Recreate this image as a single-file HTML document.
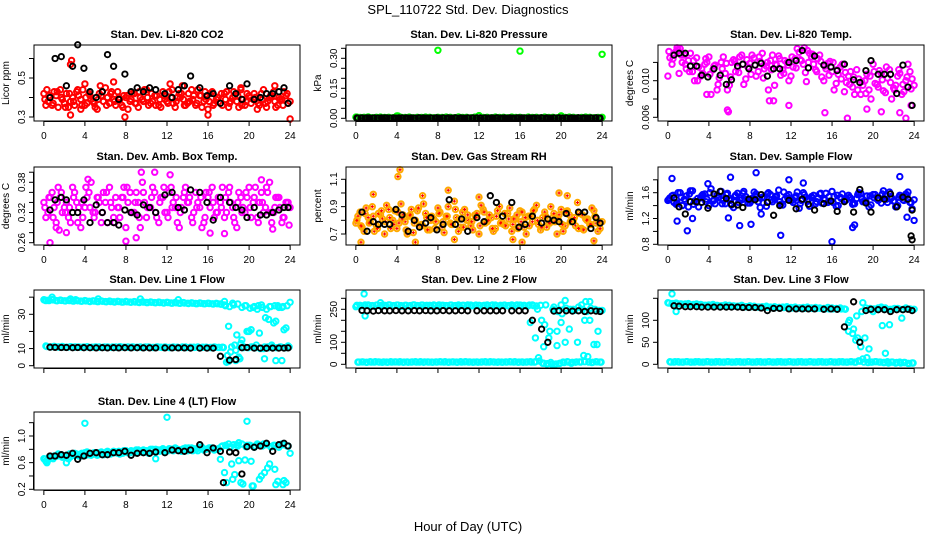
<!DOCTYPE html>
<html><head><meta charset="utf-8"><title>SPL_110722 Std. Dev. Diagnostics</title>
<style>
html,body{margin:0;padding:0;background:#fff;}
svg{display:block;font-family:"Liberation Sans",Arial,sans-serif;}
</style></head>
<body>
<svg id="chart" width="936" height="540" viewBox="0 0 936 540" xmlns="http://www.w3.org/2000/svg">
<rect width="936" height="540" fill="#fff"/>
<text x="468" y="14" font-size="13" text-anchor="middle">SPL_110722  Std. Dev. Diagnostics</text>
<text x="468" y="531" font-size="13" text-anchor="middle">Hour of Day (UTC)</text>
<g id="panels"></g>
</svg>
<script>
const hoursA=[0,0.4,0.8,1.2,1.6,2,2.4,2.8,3.2,3.6,4,4.4,4.8,5.2,5.6,6,6.4,6.8,7.2,7.6,8,8.4,8.8,9.2,9.6,10,10.4,10.8,11.2,11.6,12,12.4,12.8,13.2,13.6,14,14.4,14.8,15.2,15.6,16,16.4,16.8,17.2,17.6,18,18.4,18.8,19.2,19.6,20,20.4,20.8,21.2,21.6,22,22.4,22.8,23.2,23.6,24];
const hoursB=[0.2,0.6,1,1.4,1.8,2.2,2.6,3,3.4,3.8,4.2,4.6,5,5.4,5.8,6.2,6.6,7,7.4,7.8,8.2,8.6,9,9.4,9.8,10.2,10.6,11,11.4,11.8,12.2,12.6,13,13.4,13.8,14.2,14.6,15,15.4,15.8,16.2,16.6,17,17.4,17.8,18.2,18.6,19,19.4,19.8,20.2,20.6,21,21.4,21.8,22.2,22.6,23,23.4,23.8];
const hoursC=[0.1,0.5,0.9,1.3,1.7,2.1,2.5,2.9,3.3,3.7,4.1,4.5,4.9,5.3,5.7,6.1,6.5,6.9,7.3,7.7,8.1,8.5,8.9,9.3,9.7,10.1,10.5,10.9,11.3,11.7,12.1,12.5,12.9,13.3,13.7,14.1,14.5,14.9,15.3,15.7,16.1,16.5,16.9,17.3,17.7,18.1,18.5,18.9,19.3,19.7,20.1,20.5,20.9,21.3,21.7,22.1,22.5,22.9,23.3,23.7];
const hoursD=[0.3,0.7,1.1,1.5,1.9,2.3,2.7,3.1,3.5,3.9,4.3,4.7,5.1,5.5,5.9,6.3,6.7,7.1,7.5,7.9,8.3,8.7,9.1,9.5,9.9,10.3,10.7,11.1,11.5,11.9,12.3,12.7,13.1,13.5,13.9,14.3,14.7,15.1,15.5,15.9,16.3,16.7,17.1,17.5,17.9,18.3,18.7,19.1,19.5,19.9,20.3,20.7,21.1,21.5,21.9,22.3,22.7,23.1,23.5,23.9];
const blackHours=[0.6,1.1,1.7,2.2,2.8,3.3,3.9,4.5,5.1,5.7,6.2,6.8,7.3,7.9,8.5,9.1,9.7,10.3,10.9,11.8,12.5,13.1,13.7,14.3,15.2,15.9,16.5,17.2,18.1,18.7,19.3,19.8,20.5,21.1,21.7,22.3,22.9,23.4,23.8];
const xTicks=[0,4,8,12,16,20,24];

// CO2
const co2A=[0.42,0.38,0.36,0.41,0.44,0.37,0.35,0.40,0.43,0.39,0.36,0.42,0.38,0.34,0.41,0.45,0.37,0.39,0.43,0.36,0.40,0.38,0.42,0.35,0.39,0.44,0.37,0.41,0.36,0.43,0.38,0.40,0.35,0.42,0.39,0.37,0.44,0.36,0.41,0.38,0.34,0.43,0.39,0.37,0.42,0.35,0.40,0.38,0.44,0.36,0.41,0.39,0.34,0.42,0.37,0.40,0.43,0.36,0.39,0.41,0.38];
const co2B=[0.36,0.40,0.43,0.35,0.39,0.42,0.38,0.36,0.41,0.44,0.37,0.39,0.35,0.42,0.38,0.40,0.43,0.36,0.39,0.41,0.34,0.42,0.37,0.40,0.44,0.36,0.38,0.41,0.35,0.39,0.43,0.37,0.40,0.42,0.36,0.38,0.41,0.44,0.35,0.39,0.42,0.37,0.40,0.36,0.43,0.38,0.41,0.35,0.39,0.42,0.37,0.40,0.36,0.44,0.38,0.41,0.35,0.39,0.43,0.37];
const co2C=[0.39,0.41,0.37,0.43,0.40,0.35,0.42,0.38,0.44,0.36,0.40,0.41,0.37,0.39,0.43,0.36,0.42,0.38,0.40,0.35,0.41,0.39,0.37,0.43,0.38,0.40,0.42,0.36,0.39,0.41,0.37,0.44,0.38,0.40,0.36,0.42,0.39,0.37,0.41,0.43,0.38,0.36,0.40,0.42,0.39,0.37,0.43,0.41,0.36,0.38,0.40,0.42,0.37,0.39,0.35,0.41,0.38,0.40,0.36,0.42];
const co2ExtraH=[2.6,2.7,2.6,4,6.8,7.9,0.3,3.6,13.5,16,24,22.5,19.2,5.5,12.3];
const co2ExtraV=[0.57,0.59,0.31,0.47,0.48,0.30,0.44,0.34,0.46,0.31,0.29,0.46,0.45,0.46,0.47];
const co2Black=[0.40,0.60,0.61,0.46,0.56,0.67,0.55,0.43,0.40,0.43,0.62,0.56,0.39,0.52,0.43,0.45,0.43,0.45,0.44,0.42,0.40,0.44,0.46,0.51,0.45,0.41,0.42,0.37,0.46,0.42,0.39,0.47,0.39,0.40,0.42,0.42,0.43,0.45,0.37];
const co2Ticks=[0.3,0.4,0.5,0.6];
const co2Labels=["0.3","","0.5",""];

// Pressure
const presA=[0.006,0.004,0.005,0.007,0.003,0.005,0.006,0.004,0.005,0.003,0.012,0.005,0.004,0.006,0.003,0.005,0.004,0.006,0.005,0.003,0.005,0.004,0.006,0.005,0.003,0.007,0.004,0.005,0.003,0.006,0.013,0.004,0.005,0.003,0.006,0.004,0.005,0.003,0.006,0.004,0.005,0.003,0.006,0.004,0.005,0.003,0.006,0.004,0.005,0.003,0.012,0.004,0.006,0.005,0.003,0.004,0.006,0.005,0.003,0.004,0.005];
const presExtraH=[8,16,24,4.1,12,20,0.1];
const presExtraV=[0.340,0.336,0.320,0.012,0.013,0.012,0.006];
const presBlackB=[0.001,0.002,0.001,0.001,0.002,0.001,0.001,0.002,0.001,0.001,0.002,0.001,0.001,0.002,0.001,0.001,0.002,0.001,0.001,0.002,0.001,0.001,0.002,0.001,0.001,0.002,0.001,0.001,0.002,0.001,0.001,0.002,0.001,0.001,0.002,0.001,0.001,0.002,0.001,0.001,0.002,0.001,0.001,0.002,0.001,0.001,0.002,0.001,0.001,0.002,0.001,0.001,0.002,0.001,0.001,0.002,0.001,0.001,0.002,0.001];
const presBlackC=[0.002,0.001,0.001,0.002,0.001,0.001,0.002,0.001,0.001,0.002,0.001,0.001,0.002,0.001,0.001,0.002,0.001,0.001,0.002,0.001,0.001,0.002,0.001,0.001,0.002,0.001,0.001,0.002,0.001,0.001,0.002,0.001,0.001,0.002,0.001,0.001,0.002,0.001,0.001,0.002,0.001,0.001,0.002,0.001,0.001,0.002,0.001,0.001,0.002,0.001,0.001,0.002,0.001,0.001,0.002,0.001,0.001,0.002,0.001,0.001];
const presBlack=[0.001,0.002,0.001,0.001,0.002,0.001,0.001,0.002,0.001,0.001,0.002,0.001,0.001,0.002,0.001,0.001,0.002,0.001,0.001,0.002,0.001,0.001,0.002,0.001,0.001,0.002,0.001,0.001,0.002,0.001,0.001,0.002,0.001,0.001,0.002,0.001,0.001,0.002,0.001];
const presTicks=[0,0.05,0.1,0.15,0.2,0.25,0.3,0.35];
const presLabels=["0.00","","","0.15","","","0.30",""];

// Li-820 Temp
const tempA=[0.0105,0.0118,0.0132,0.0135,0.0128,0.0122,0.0110,0.0125,0.0105,0.0118,0.0126,0.0112,0.0090,0.0120,0.0108,0.0095,0.0123,0.0114,0.0128,0.0102,0.0119,0.0125,0.0110,0.0130,0.0116,0.0122,0.0095,0.0127,0.0112,0.0120,0.0105,0.0124,0.0131,0.0118,0.0133,0.0126,0.0112,0.0128,0.0100,0.0119,0.0110,0.0097,0.0115,0.0088,0.0105,0.0093,0.0112,0.0085,0.0100,0.0090,0.0118,0.0096,0.0108,0.0087,0.0112,0.0092,0.0105,0.0085,0.0100,0.0110,0.0095];
const tempB=[0.0125,0.0130,0.0134,0.0120,0.0113,0.0130,0.0100,0.0115,0.0108,0.0120,0.0085,0.0117,0.0103,0.0126,0.0090,0.0120,0.0110,0.0126,0.0096,0.0115,0.0128,0.0105,0.0121,0.0113,0.0090,0.0128,0.0117,0.0106,0.0122,0.0100,0.0115,0.0135,0.0122,0.0109,0.0130,0.0118,0.0124,0.0104,0.0113,0.0121,0.0090,0.0107,0.0118,0.0098,0.0110,0.0085,0.0102,0.0095,0.0107,0.0080,0.0097,0.0111,0.0089,0.0103,0.0080,0.0095,0.0108,0.0088,0.0118,0.0102];
const tempC=[0.0132,0.0124,0.0136,0.0128,0.0118,0.0110,0.0122,0.0100,0.0113,0.0124,0.0107,0.0116,0.0096,0.0113,0.0119,0.0104,0.0121,0.0109,0.0118,0.0123,0.0107,0.0117,0.0126,0.0103,0.0120,0.0112,0.0118,0.0124,0.0108,0.0117,0.0126,0.0114,0.0123,0.0136,0.0120,0.0129,0.0110,0.0121,0.0116,0.0106,0.0120,0.0112,0.0102,0.0109,0.0096,0.0104,0.0090,0.0099,0.0086,0.0105,0.0110,0.0093,0.0101,0.0115,0.0098,0.0090,0.0112,0.0096,0.0104,0.0091];
const tempExtraH=[5.8,5.9,3.8,9.9,10.3,11.8,15.3,17.5,19.4,20.8,22.6,23.2,23.7,1.1,13.5];
const tempExtraV=[0.0068,0.0066,0.0085,0.0078,0.0078,0.0073,0.0065,0.0059,0.0069,0.0066,0.0065,0.0059,0.0073,0.0108,0.0099];
const tempBlack=[0.0128,0.0130,0.0130,0.0116,0.0116,0.0106,0.0104,0.0113,0.0106,0.0096,0.0101,0.0116,0.0118,0.0113,0.0117,0.0119,0.0105,0.0113,0.0113,0.0120,0.0122,0.0133,0.0114,0.0127,0.0117,0.0115,0.0111,0.0118,0.0101,0.0098,0.0111,0.0122,0.0107,0.0107,0.0107,0.0086,0.0117,0.0093,0.0073];
const tempTicks=[0.006,0.008,0.010,0.012];
const tempLabels=["0.006","","0.010",""];

// Amb box temp
const ambA=[0.34,0.32,0.36,0.30,0.35,0.33,0.31,0.37,0.34,0.29,0.33,0.36,0.32,0.35,0.30,0.34,0.37,0.31,0.33,0.35,0.29,0.36,0.32,0.34,0.38,0.31,0.33,0.36,0.30,0.35,0.32,0.37,0.33,0.29,0.35,0.34,0.31,0.36,0.33,0.30,0.35,0.37,0.32,0.34,0.31,0.36,0.33,0.29,0.35,0.32,0.37,0.34,0.31,0.36,0.33,0.38,0.32,0.35,0.30,0.34,0.33];
const ambB=[0.31,0.35,0.33,0.37,0.32,0.34,0.30,0.36,0.33,0.31,0.35,0.38,0.32,0.34,0.36,0.30,0.33,0.35,0.31,0.37,0.34,0.32,0.36,0.29,0.34,0.33,0.37,0.31,0.35,0.32,0.36,0.34,0.30,0.33,0.37,0.35,0.32,0.34,0.29,0.36,0.33,0.31,0.35,0.37,0.32,0.34,0.30,0.36,0.33,0.35,0.31,0.37,0.34,0.32,0.36,0.30,0.35,0.33,0.31,0.34];
const ambC=[0.33,0.35,0.31,0.34,0.36,0.32,0.33,0.35,0.30,0.34,0.37,0.33,0.31,0.35,0.32,0.36,0.34,0.30,0.33,0.35,0.37,0.32,0.34,0.31,0.36,0.33,0.35,0.32,0.34,0.37,0.31,0.33,0.35,0.32,0.36,0.34,0.30,0.33,0.35,0.31,0.36,0.34,0.32,0.33,0.35,0.37,0.31,0.34,0.32,0.36,0.33,0.35,0.30,0.34,0.37,0.32,0.33,0.35,0.31,0.34];
const ambExtraH=[0.6,1.5,9.5,10.8,12.3,8,9,4.3,21.2,22.3,16.2,17.6,1.2,23.9,2.2];
const ambExtraV=[0.26,0.285,0.40,0.40,0.395,0.263,0.27,0.386,0.385,0.287,0.279,0.278,0.29,0.295,0.28];
const ambBlack=[0.325,0.345,0.35,0.345,0.32,0.32,0.345,0.30,0.335,0.32,0.30,0.30,0.295,0.325,0.32,0.315,0.335,0.33,0.32,0.355,0.36,0.33,0.325,0.365,0.36,0.34,0.305,0.35,0.34,0.33,0.325,0.31,0.33,0.315,0.315,0.32,0.325,0.33,0.33];
const ambTicks=[0.26,0.28,0.30,0.32,0.34,0.36,0.38,0.40];
const ambLabels=["0.26","","","0.32","","","0.38",""];

// Gas stream RH
const rhA=[0.78,0.86,0.72,0.82,0.90,0.76,0.84,0.70,0.88,0.80,0.74,0.92,0.79,0.83,0.71,0.87,0.77,0.85,0.73,0.81,0.89,0.75,0.83,0.78,0.94,0.72,0.86,0.80,0.76,0.84,0.70,0.88,0.79,0.82,0.74,0.90,0.77,0.85,0.72,0.81,0.87,0.75,0.83,0.79,0.91,0.73,0.86,0.78,0.82,0.70,0.88,0.76,0.84,0.80,0.93,0.74,0.81,0.77,0.87,0.72,0.79];
const rhB=[0.83,0.75,0.89,0.79,0.72,0.85,0.81,0.91,0.74,0.87,0.78,0.84,0.70,0.88,0.80,0.76,0.92,0.73,0.83,0.79,0.86,0.71,0.90,0.77,0.82,0.75,0.88,0.80,0.73,0.85,0.91,0.78,0.84,0.72,0.87,0.79,0.76,0.89,0.81,0.74,0.86,0.70,0.83,0.88,0.77,0.82,0.75,0.90,0.79,0.84,0.72,0.87,0.80,0.76,0.85,0.73,0.81,0.89,0.78,0.74];
const rhC=[0.80,0.76,0.85,0.78,0.83,0.74,0.87,0.79,0.82,0.77,0.86,0.81,0.73,0.84,0.78,0.89,0.76,0.82,0.80,0.74,0.85,0.79,0.83,0.77,0.88,0.81,0.75,0.84,0.79,0.82,0.76,0.86,0.80,0.74,0.83,0.78,0.85,0.81,0.77,0.84,0.79,0.82,0.76,0.87,0.80,0.75,0.83,0.78,0.85,0.81,0.77,0.86,0.79,0.82,0.74,0.84,0.80,0.77,0.83,0.79];
const rhExtraH=[4.1,4.3,1.7,5.8,6.5,9,9.6,19.8,20.6,0.5,15.3,16.2,23.2,12];
const rhExtraV=[1.12,1.17,0.99,0.64,0.98,1.02,0.66,1.00,0.98,0.64,0.66,0.64,0.65,0.97];
const rhBlack=[0.86,0.72,0.79,0.77,0.77,0.77,0.88,0.84,0.72,0.80,0.75,0.78,0.82,0.73,0.77,0.95,0.77,0.81,0.72,0.82,0.79,0.98,0.93,0.83,0.93,0.75,0.77,0.83,0.78,0.81,0.80,0.79,0.85,0.79,0.86,0.86,0.74,0.82,0.78];
const rhTicks=[0.7,0.8,0.9,1.0,1.1];
const rhLabels=["0.7","","0.9","","1.1"];

// Sample flow
const sfA=[1.48,1.55,1.42,1.60,1.50,1.38,1.63,1.45,1.52,1.58,1.40,1.47,1.56,1.62,1.43,1.51,1.37,1.59,1.49,1.54,1.44,1.61,1.46,1.53,1.39,1.57,1.50,1.64,1.41,1.55,1.48,1.52,1.36,1.60,1.47,1.54,1.43,1.58,1.50,1.45,1.62,1.39,1.53,1.48,1.56,1.42,1.51,1.59,1.46,1.38,1.57,1.50,1.44,1.55,1.61,1.47,1.40,1.53,1.58,1.45,1.49];
const sfB=[1.52,1.45,1.60,1.40,1.55,1.63,1.47,1.38,1.57,1.50,1.66,1.43,1.54,1.48,1.59,1.41,1.56,1.49,1.62,1.44,1.51,1.58,1.37,1.53,1.60,1.46,1.55,1.42,1.50,1.57,1.45,1.61,1.48,1.53,1.39,1.56,1.51,1.44,1.59,1.47,1.54,1.40,1.58,1.49,1.52,1.43,1.60,1.46,1.55,1.41,1.57,1.50,1.63,1.45,1.52,1.38,1.56,1.48,1.61,1.35];
const sfC=[1.50,1.56,1.44,1.53,1.47,1.58,1.42,1.51,1.55,1.46,1.60,1.49,1.52,1.43,1.57,1.48,1.54,1.45,1.59,1.50,1.47,1.55,1.52,1.44,1.58,1.49,1.53,1.46,1.61,1.51,1.48,1.55,1.43,1.57,1.50,1.52,1.46,1.59,1.49,1.54,1.45,1.56,1.51,1.48,1.53,1.44,1.57,1.50,1.46,1.55,1.52,1.48,1.58,1.50,1.54,1.47,1.53,1.49,1.56,1.45];
const sfExtraH=[0.4,0.9,1.9,2.4,5.9,6.1,7.0,8.1,8.6,11.0,11.8,16.0,18.0,18.2,22.6,23.3,24,3.9,13.2,9.1];
const sfExtraV=[1.82,1.16,1.01,1.20,1.21,1.84,1.09,1.11,1.91,0.94,1.80,0.84,1.06,1.10,1.85,1.22,1.17,1.74,1.75,1.27];
const sfBlack=[1.52,1.38,1.27,1.46,1.46,1.45,1.36,1.58,1.62,1.51,1.42,1.41,1.37,1.50,1.49,1.57,1.45,1.25,1.40,1.48,1.35,1.50,1.42,1.33,1.43,1.47,1.31,1.46,1.30,1.65,1.44,1.30,1.52,1.50,1.58,1.38,1.53,1.50,1.33];
const sfBlackExtraH=[23.7,23.8];
const sfBlackExtraV=[0.93,0.87];
const sfTicks=[0.8,1.0,1.2,1.4,1.6,1.8];
const sfLabels=["0.8","","1.2","","1.6",""];

// Line 1
const l1A=[38.5,38.2,38.6,38.0,38.3,37.9,38.2,37.8,38.1,37.7,38.0,37.6,37.9,37.5,37.8,37.4,37.7,37.3,37.6,37.2,37.5,37.1,37.4,37.0,37.3,36.9,37.2,36.8,37.1,36.7,37.0,36.6,36.9,36.5,36.8,36.4,36.7,36.3,36.6,36.2,36.5,36.1,36.4,36.0,35.5,23.0,36.5,18.0,13.0,35.0,20.0,34.0,33.0,35.5,28.0,34.5,25.0,35.0,34.0,22.0,37.0];
const l1B=[11.5,11.0,11.3,10.9,11.2,10.8,11.1,10.9,11.0,10.8,11.1,10.7,11.0,10.9,10.8,11.0,10.7,10.9,11.1,10.8,10.9,11.0,10.7,10.9,10.8,11.0,10.7,10.9,10.8,11.0,10.6,10.9,10.8,10.7,10.9,10.6,10.8,10.9,10.7,10.8,10.6,10.9,10.7,10.8,2.0,8.0,12.0,5.0,10.5,20.0,11.0,10.5,19.0,10.0,11.0,12.0,3.0,11.0,10.5,11.5];
const l1C=[38.3,38.0,38.4,37.9,38.1,37.8,38.0,37.7,37.9,37.6,37.8,37.5,37.7,37.4,37.6,37.3,37.5,37.2,37.4,37.1,37.3,37.0,37.2,36.9,37.1,36.8,37.0,36.7,36.9,36.6,36.8,36.5,36.7,36.4,36.6,36.3,36.5,36.2,36.4,36.1,36.3,36.0,36.2,35.9,35.0,34.5,35.5,36.0,34.0,35.0,33.5,34.5,35.0,34.0,33.0,34.5,35.0,34.0,34.5,35.0];
const l1D=[11.2,11.0,11.1,10.9,11.0,10.8,11.0,10.9,10.8,11.0,10.9,10.8,11.0,10.7,10.9,10.8,11.0,10.7,10.9,10.8,10.7,10.9,10.8,10.7,10.9,10.8,10.6,10.9,10.7,10.8,10.6,10.8,10.7,10.9,10.6,10.8,10.7,10.6,10.8,10.7,10.6,10.8,10.7,10.6,6.0,11.0,9.0,4.0,11.0,10.5,11.0,12.0,10.0,11.0,10.5,11.0,10.5,11.0,10.5,11.0];
const l1ExtraH=[0.2,0.8,2.6,3.1,5.3,9.4,13.1,17.6,18.0,18.7,19.3,19.9,20.2,21.5,21.9,22.6,23.2,23.4];
const l1ExtraV=[38,40,39,38.5,39,39,38.5,37.5,2.5,3.0,15,20,21,4,27,26,3,21];
const l1Black=[10.8,10.7,10.6,10.6,10.5,10.6,10.5,10.5,10.4,10.5,10.4,10.5,10.4,10.5,10.4,10.5,10.4,10.4,10.4,10.4,10.4,10.4,10.4,10.3,10.3,10.3,10.3,5.5,3.2,3.6,10.5,10.6,10.3,10.3,10.2,10.3,10.3,10.3,10.4];
const l1Ticks=[0,10,20,30,40];
const l1Labels=["0","10","","30",""];

// Line 2
const l2A=[262,268,266,270,267,269,265,268,270,266,269,267,268,265,270,267,269,266,268,270,265,268,267,269,266,270,268,265,269,267,268,266,270,267,269,265,268,266,270,267,269,268,266,270,265,268,180,120,250,85,270,290,160,250,100,270,285,200,90,150,245];
const l2B=[10,11,9,12,10,11,9,10,12,11,10,9,11,10,12,10,9,11,10,11,12,10,9,11,10,12,11,10,9,11,10,12,10,11,9,10,11,12,10,9,11,10,12,10,30,5,2,8,0,3,10,12,5,9,11,40,35,8,12,10];
const l2C=[268,266,270,267,265,269,268,266,270,267,269,265,268,267,270,266,269,268,265,267,270,268,266,269,267,265,268,270,266,269,267,268,265,270,266,268,269,267,265,270,268,266,269,267,250,200,270,150,260,240,230,255,250,245,260,250,240,255,250,245];
const l2D=[10,11,9,10,12,10,11,9,10,11,12,10,9,11,10,12,11,10,9,10,11,12,10,11,9,10,12,11,10,9,11,10,12,10,11,9,10,11,12,10,9,11,10,12,15,5,3,0,2,5,8,10,9,11,10,12,10,9,11,10];
const l2ExtraH=[0.8,0.9,2.4,17.0,17.5,18.3,19.6,20.0,20.4,22.3,22.8,23.5];
const l2ExtraV=[320,220,280,190,120,80,150,190,100,200,285,90];
const l2Black=[245,243,242,244,243,243,244,243,243,244,243,244,243,243,244,243,243,244,243,243,243,243,243,243,243,243,243,200,160,100,242,244,243,242,243,240,243,242,240];
const l2Ticks=[0,50,100,150,200,250,300];
const l2Labels=["0","","100","","","250",""];

// Line 3
const l3A=[140,138,139,137,136,138,135,137,136,134,135,136,134,133,135,134,133,132,134,131,133,132,130,131,132,130,131,129,130,131,129,130,128,129,130,128,129,128,127,129,128,127,128,126,95,70,110,40,60,35,120,125,130,128,90,126,127,105,128,126,125];
const l3B=[6,5,6,5,6,5,5,6,5,6,5,5,6,5,6,5,5,6,5,6,5,5,6,5,6,5,5,6,5,6,5,5,6,5,6,5,5,6,5,6,5,5,6,5,6,5,8,12,15,5,6,5,4,6,5,3,5,4,2,3];
const l3C=[139,138,138,137,137,136,136,135,135,134,134,134,133,133,133,132,132,132,131,131,131,130,130,130,130,129,129,129,129,128,128,128,128,127,127,127,127,127,126,126,126,126,126,125,100,80,60,120,128,127,126,128,127,126,125,127,126,125,126,125];
const l3D=[5,6,5,5,6,5,6,5,5,6,5,6,5,5,6,5,6,5,5,6,5,6,5,5,6,5,6,5,5,6,5,6,5,5,6,5,6,5,5,6,5,6,5,5,6,5,7,5,4,5,6,5,4,3,5,4,3,4,2,3];
const l3ExtraH=[0.4,0.8,17.6,18.3,19.0,20.9,21.2,19.6];
const l3ExtraV=[160,120,75,55,140,88,25,125];
const l3Black=[133,132,131,131,131,130,130,130,130,130,130,130,129,129,129,128,122,127,127,126,126,126,126,126,125,126,125,85,142,50,122,125,124,124,120,124,124,125,122];
const l3Ticks=[0,50,100,150];
const l3Labels=["0","50","100",""];

// Line 4
const l4A=[0.66,0.64,0.68,0.70,0.72,0.69,0.66,0.71,0.73,0.70,0.75,0.72,0.74,0.71,0.76,0.73,0.75,0.77,0.74,0.76,0.78,0.75,0.77,0.79,0.76,0.78,0.80,0.77,0.79,0.81,0.78,0.80,0.82,0.79,0.81,0.78,0.82,0.80,0.83,0.79,0.81,0.82,0.80,0.65,0.45,0.88,0.35,0.87,0.30,0.64,0.86,0.25,0.88,0.40,0.87,0.58,0.86,0.32,0.88,0.30,0.74];
const l4B=[0.62,0.67,0.70,0.73,0.68,0.71,0.69,0.74,0.70,0.72,0.76,0.71,0.73,0.75,0.72,0.77,0.74,0.76,0.73,0.78,0.75,0.77,0.79,0.76,0.78,0.74,0.80,0.77,0.79,0.76,0.81,0.78,0.80,0.77,0.82,0.79,0.81,0.78,0.83,0.80,0.82,0.79,0.81,0.85,0.30,0.84,0.42,0.90,0.28,0.86,0.62,0.85,0.35,0.88,0.52,0.84,0.27,0.86,0.33,0.85];
const l4C=[0.65,0.68,0.66,0.70,0.72,0.70,0.73,0.71,0.72,0.74,0.71,0.73,0.75,0.72,0.74,0.76,0.73,0.75,0.77,0.74,0.76,0.78,0.75,0.77,0.79,0.76,0.78,0.80,0.77,0.79,0.78,0.80,0.81,0.79,0.80,0.82,0.78,0.81,0.83,0.80,0.82,0.81,0.80,0.84,0.86,0.83,0.87,0.85,0.88,0.84,0.86,0.83,0.87,0.85,0.88,0.84,0.86,0.83,0.87,0.85];
const l4ExtraH=[4,12,19.8,2.2,0.3,10.9,18.3,19.0,20.3,21.5,22.5,23.3];
const l4ExtraV=[1.19,1.28,1.22,0.60,0.60,0.66,0.58,0.63,0.25,0.45,0.50,0.27];
const l4Black=[0.70,0.70,0.72,0.71,0.74,0.65,0.70,0.74,0.75,0.72,0.72,0.75,0.75,0.77,0.71,0.74,0.75,0.74,0.76,0.75,0.79,0.78,0.77,0.79,0.87,0.75,0.82,0.77,0.76,0.75,0.43,0.84,0.83,0.85,0.89,0.77,0.87,0.89,0.85];
const l4BlackExtraH=[17.5];
const l4BlackExtraV=[0.30];
const l4Ticks=[0.2,0.4,0.6,0.8,1.0,1.2];
const l4Labels=["0.2","","0.6","","1.0",""];

const NS="http://www.w3.org/2000/svg";
const root=document.getElementById('panels');
const rowTop=[45,167,290,412], rowBot=[121,245,368,490];

function mk(tag,attrs,parent){const e=document.createElementNS(NS,tag);for(const k in attrs)e.setAttribute(k,attrs[k]);parent.appendChild(e);return e;}

const panels=[
 {key:'co2',title:'Stan. Dev. Li-820 CO2',ylab:'Licor ppm',row:0,col:0,cal:[0.3,117,0.5,78],color:'#ff0000',sets:[[hoursA,co2A],[hoursB,co2B],[hoursC,co2C],[co2ExtraH,co2ExtraV]],black:[[blackHours,co2Black]],ticks:co2Ticks,labels:co2Labels,xlab:true},
 {key:'pressure',title:'Stan. Dev. Li-820 Pressure',ylab:'kPa',row:0,col:1,cal:[0,118.3,0.3,58.3],color:'#00ff00',sets:[[hoursA,presA],[presExtraH,presExtraV]],black:[[hoursB,presBlackB],[hoursC,presBlackC],[blackHours,presBlack]],ticks:presTicks,labels:presLabels,xlab:true},
 {key:'temp',title:'Stan. Dev. Li-820 Temp.',ylab:'degrees C',row:0,col:2,cal:[0.006,117.3,0.010,80.7],color:'#ff00ff',sets:[[hoursA,tempA],[hoursB,tempB],[hoursC,tempC],[tempExtraH,tempExtraV]],black:[[blackHours,tempBlack]],ticks:tempTicks,labels:tempLabels,xlab:true},
 {key:'amb-temp',title:'Stan. Dev. Amb. Box Temp.',ylab:'degrees C',row:1,col:0,cal:[0.26,242.7,0.38,182.3],color:'#ff00ff',sets:[[hoursA,ambA],[hoursB,ambB],[hoursC,ambC],[ambExtraH,ambExtraV]],black:[[blackHours,ambBlack]],ticks:ambTicks,labels:ambLabels,xlab:true},
 {key:'rh',title:'Stan. Dev. Gas Stream RH',ylab:'percent',row:1,col:1,cal:[0.7,234,1.1,179.3],color:'#ffaa00',cross:'#ff0000',sets:[[hoursA,rhA],[hoursB,rhB],[hoursC,rhC],[rhExtraH,rhExtraV]],black:[[blackHours,rhBlack]],ticks:rhTicks,labels:rhLabels,xlab:true},
 {key:'sample-flow',title:'Stan. Dev. Sample Flow',ylab:'ml/min',row:1,col:2,cal:[0.8,244.3,1.6,192.7],color:'#0000ff',sets:[[hoursA,sfA],[hoursB,sfB],[hoursC,sfC],[sfExtraH,sfExtraV]],black:[[blackHours,sfBlack],[sfBlackExtraH,sfBlackExtraV]],ticks:sfTicks,labels:sfLabels,xlab:true},
 {key:'line1',title:'Stan. Dev. Line 1 Flow',ylab:'ml/min',row:2,col:0,cal:[0,365.7,30,314.3],color:'#00ffff',sets:[[hoursA,l1A],[hoursB,l1B],[hoursC,l1C],[hoursD,l1D],[l1ExtraH,l1ExtraV]],black:[[blackHours,l1Black]],ticks:l1Ticks,labels:l1Labels,xlab:false},
 {key:'line2',title:'Stan. Dev. Line 2 Flow',ylab:'ml/min',row:2,col:1,cal:[0,364.3,250,309.3],color:'#00ffff',sets:[[hoursA,l2A],[hoursB,l2B],[hoursC,l2C],[hoursD,l2D],[l2ExtraH,l2ExtraV]],black:[[blackHours,l2Black]],ticks:l2Ticks,labels:l2Labels,xlab:false},
 {key:'line3',title:'Stan. Dev. Line 3 Flow',ylab:'ml/min',row:2,col:2,cal:[0,364.3,100,320.3],color:'#00ffff',sets:[[hoursA,l3A],[hoursB,l3B],[hoursC,l3C],[hoursD,l3D],[l3ExtraH,l3ExtraV]],black:[[blackHours,l3Black]],ticks:l3Ticks,labels:l3Labels,xlab:false},
 {key:'line4',title:'Stan. Dev. Line 4 (LT) Flow',ylab:'ml/min',row:3,col:0,cal:[0.2,489.3,1.0,436],color:'#00ffff',sets:[[hoursA,l4A],[hoursB,l4B],[hoursC,l4C],[l4ExtraH,l4ExtraV]],black:[[blackHours,l4Black],[l4BlackExtraH,l4BlackExtraV]],ticks:l4Ticks,labels:l4Labels,xlab:true}
];

panels.forEach(p=>{
  const left=34+312*p.col, right=left+266, top=rowTop[p.row], bot=rowBot[p.row];
  const xs=v=>left+9.85+v*(266/25.92);
  const [v0,p0,v1,p1]=p.cal;
  const ys=v=>p0+(v-v0)*(p1-p0)/(v1-v0);
  const g=mk('g',{},root);
  
  
  const t=mk('text',{x:(left+right)/2,y:top-7,'font-size':11,'font-weight':'bold','text-anchor':'middle'},g);
  t.textContent=p.title;
  
  
  const pts=mk('g',{},g);
  
  
  p.sets.forEach(([h,v])=>{
    for(let i=0;i<Math.min(h.length,v.length);i++){
      const c=mk('circle',{cx:xs(h[i]).toFixed(1),cy:ys(v[i]).toFixed(1),r:2.7,fill:'none',stroke:p.color,'stroke-width':2},pts);
      
      
      if(p.cross){const x=xs(h[i]),y=ys(v[i]);mk('path',{d:`M${x-1.5} ${y}H${x+1.5}M${x} ${y-1.5}V${y+1.5}`,stroke:p.cross,'stroke-width':1.2},pts);}
    }
  });
  p.black.forEach(([h,v])=>{
    for(let i=0;i<Math.min(h.length,v.length);i++){
      const c=mk('circle',{cx:xs(h[i]).toFixed(1),cy:ys(v[i]).toFixed(1),r:2.7,fill:'none',stroke:'#000','stroke-width':1.9},pts);
      
      
    }
  });
  const box=mk('rect',{x:left,y:top,width:266,height:bot-top,fill:'none',stroke:'#000','stroke-width':1},g);
  
  
  const xa=mk('g',{stroke:'#000','stroke-width':1},g);
  
  
  mk('line',{x1:xs(0),x2:xs(24),y1:bot+0.5,y2:bot+0.5},xa);
  xTicks.forEach(v=>{
    mk('line',{x1:xs(v),x2:xs(v),y1:bot,y2:bot+5},xa);
    if(p.xlab){const l=mk('text',{x:xs(v),y:bot+18,'font-size':10,'text-anchor':'middle',stroke:'none',fill:'#000'},xa);l.textContent=String(v);
      
      }
  });
  const ya=mk('g',{stroke:'#000','stroke-width':1},g);
  
  
  const tk=p.ticks;
  mk('line',{x1:left-0.5,x2:left-0.5,y1:ys(tk[0]),y2:ys(tk[tk.length-1])},ya);
  tk.forEach((v,i)=>{
    const y=ys(v);
    mk('line',{x1:left-5,x2:left,y1:y,y2:y},ya);
    if(p.labels[i]){const l=mk('text',{x:0,y:0,'font-size':10,'text-anchor':'middle',stroke:'none',fill:'#000',transform:`translate(${left-9},${y}) rotate(-90)`},ya);l.textContent=p.labels[i];
      
      }
  });
  const yl=mk('text',{x:0,y:0,'font-size':10,'text-anchor':'middle',transform:`translate(${left-25},${(top+bot)/2}) rotate(-90)`},g);
  yl.textContent=p.ylab;
  
  
});
</script>
</body></html>
